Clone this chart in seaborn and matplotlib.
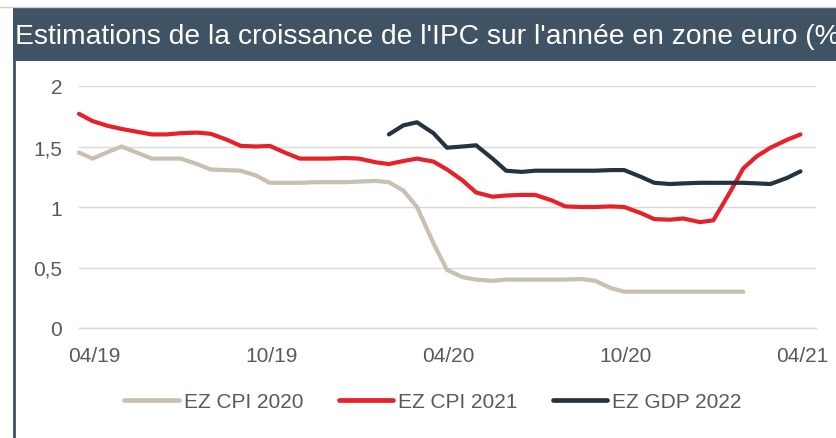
import numpy as np
import pandas as pd
import matplotlib
matplotlib.use("Agg")
import matplotlib.pyplot as plt
import matplotlib.transforms as mtransforms
from matplotlib.lines import Line2D
from matplotlib.patches import Rectangle
import seaborn as sns

# ---------------- data (semi-monthly readings) ----------------
dates = pd.date_range("2019-04-01", "2021-04-15", freq="SMS")

cpi_2020 = [1.45, 1.40, 1.455, 1.50, 1.445, 1.40, 1.40, 1.40, 1.355, 1.31, 1.305, 1.30,
            1.26, 1.20, 1.20, 1.20, 1.205, 1.205,
            1.205, 1.21, 1.215, 1.205, 1.135, 1.00, 0.70, 0.48, 0.42, 0.40, 0.39, 0.40,
            0.40, 0.40, 0.40, 0.40, 0.405, 0.39, 0.33, 0.30, 0.30, 0.30, 0.30, 0.30,
            0.30, 0.30, 0.30, 0.30, None, None, None, None]

cpi_2021 = [1.77, 1.71, 1.67, 1.645, 1.62, 1.60, 1.60, 1.61, 1.615, 1.605, 1.555, 1.505,
            1.50, 1.505, 1.445, 1.40, 1.40, 1.40,
            1.405, 1.40, 1.37, 1.355, 1.38, 1.40, 1.375, 1.31, 1.22, 1.12, 1.085, 1.095,
            1.10, 1.10, 1.055, 1.005, 1.00, 1.00, 1.005, 1.00, 0.95, 0.90, 0.895, 0.905,
            0.875, 0.89, 1.12, 1.32, 1.42, 1.49, 1.555, 1.60]

gdp_2022 = [None] * 18 + \
           [None, None, None, 1.60, 1.675, 1.70, 1.61, 1.49, 1.50, 1.51, 1.40, 1.30,
            1.29, 1.30, 1.30, 1.30, 1.30, 1.30, 1.305, 1.305, 1.25, 1.20, 1.19, 1.195,
            1.20, 1.20, 1.20, 1.20, 1.195, 1.19, 1.24, 1.295]

series_names = ["EZ CPI 2020", "EZ CPI 2021", "EZ GDP 2022"]
colors = {"EZ CPI 2020": "#c8c0b0", "EZ CPI 2021": "#e8202a", "EZ GDP 2022": "#253341"}

title = "Estimations de la croissance de l'IPC sur l'année en zone euro (%)"
y_ticks = [0, 0.5, 1, 1.5, 2]
y_ticklabels = ["0", "0,5", "1", "1,5", "2"]
x_tick_dates = ["2019-04-01", "2019-10-01", "2020-04-01", "2020-10-01", "2021-04-01"]
x_ticklabels = ["04/19", "10/19", "04/20", "10/20", "04/21"]

wide = pd.DataFrame({"date": dates,
                     "EZ CPI 2020": pd.to_numeric(pd.Series(cpi_2020), errors="coerce"),
                     "EZ CPI 2021": pd.to_numeric(pd.Series(cpi_2021), errors="coerce"),
                     "EZ GDP 2022": pd.to_numeric(pd.Series(gdp_2022), errors="coerce")})
long = wide.melt(id_vars="date", var_name="series", value_name="value").dropna()

# ---------------- style ----------------
sns.set_theme(style="white")
plt.rcParams["font.family"] = ["Liberation Sans", "DejaVu Sans"]

W, H = 836, 439
fig = plt.figure(figsize=(W / 100, H / 100), dpi=100)
fig.patch.set_facecolor("white")

# title band
band_color = "#405364"
fig.patches.append(Rectangle((13 / W, 1 - 62 / H), 1 - 13 / W, 54 / H,
                             transform=fig.transFigure, facecolor=band_color,
                             edgecolor="none", zorder=0))
fig.lines.append(Line2D([0, 1], [1 - 7.5 / H, 1 - 7.5 / H], transform=fig.transFigure,
                        color="#d0d0d0", lw=1))
fig.lines.append(Line2D([14 / W, 14 / W], [0, 1 - 62 / H], transform=fig.transFigure,
                        color=band_color, lw=2))
fig.text(15 / W, 1 - 37 / H, title, color="white", fontsize=20.3,
         ha="left", va="center")

ax = fig.add_axes([79 / W, 1 - 329 / H, (816 - 79) / W, (329 - 87) / H])
sns.lineplot(data=long, x="date", y="value", hue="series", hue_order=series_names,
             palette=colors, linewidth=3, ax=ax, legend=False, estimator=None,
             sort=True)
for ln in ax.lines:
    ln.set_solid_capstyle("round")
    ln.set_solid_joinstyle("round")
    ln.set_clip_on(False)

ax.set_xlim(pd.Timestamp("2019-04-01"), pd.Timestamp("2021-05-01"))
ax.set_ylim(0, 2)
ax.set_yticks(y_ticks)
ax.set_yticklabels(y_ticklabels)
ax.set_xticks(pd.to_datetime(x_tick_dates))
ax.set_xticklabels(x_ticklabels)
ax.set_xlabel("")
ax.set_ylabel("")

ax.grid(axis="y", color="#d9d9d9", lw=1)
ax.grid(axis="x", visible=False)
ax.set_axisbelow(True)
for s in ["top", "right", "left"]:
    ax.spines[s].set_visible(False)
ax.spines["bottom"].set_color("#d9d9d9")
ax.spines["bottom"].set_linewidth(1)
ax.tick_params(axis="x", length=5, width=1, color="#d9d9d9", colors="#595959",
               labelsize=15, pad=8)
ax.tick_params(axis="y", length=0, colors="#595959", labelsize=15, pad=12)
ax.tick_params(axis="x", which="both", color="#d9d9d9")

# x labels sit slightly to the right of their tick marks
offset = mtransforms.ScaledTranslation(15 / 100, 0, fig.dpi_scale_trans)
for lab in ax.get_xticklabels():
    lab.set_transform(lab.get_transform() + offset)

handles = [Line2D([0], [0], color=colors[n], lw=3.4) for n in series_names]
fig.legend(handles, series_names, loc="center", ncol=3,
           bbox_to_anchor=(433 / W, 1 - 403 / H), frameon=False, fontsize=15,
           handlelength=2.6, handletextpad=0.25, columnspacing=1.7,
           labelcolor="#595959")

fig.savefig("out.png", dpi=100)
